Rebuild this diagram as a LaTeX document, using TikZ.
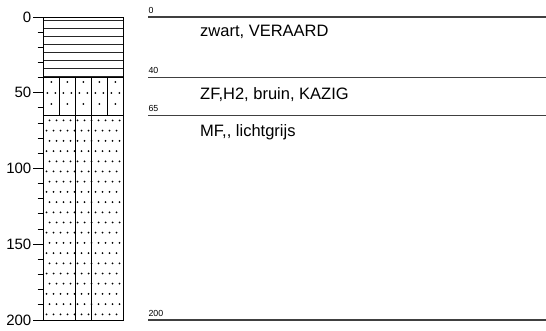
\documentclass[tikz,border=0pt]{standalone}
\usepackage{fontspec}
\setmainfont{Liberation Sans}
\begin{document}
\begin{tikzpicture}[x=1pt,y=-1pt,
  axislabel/.style={anchor=east,inner sep=0pt,font=\fontsize{15}{17}\selectfont},
  depthlabel/.style={anchor=south west,inner sep=0pt,font=\fontsize{8.8}{10}\selectfont},
  desc/.style={anchor=west,inner sep=0pt,font=\fontsize{16.5}{18}\selectfont},
  sepline/.style={line width=1.8pt,draw=black!75},
  colline/.style={line width=0.9pt,draw=black},
  hatch/.style={line width=0.8pt,draw=black!85},
  dotfill/.style={fill=black}]
\useasboundingbox (0,0) rectangle (546,331);
% depth scale: y = 17 + 1.515*d
\def\xl{43.3}\def\xr{123.3}
% top layer hatching
\foreach \yy in {20.7,28.7,...,76.7}
  \draw[hatch] (\xl,\yy) -- (\xr,\yy);
% middle layer cells
\foreach \xx in {59.3,75.3,91.3,107.3}
  \draw[colline] (\xx,77.6) -- (\xx,115.5);
% lower layer vertical lines
\foreach \xx in {75.3,91.3}
  \draw[colline] (\xx,115.5) -- (\xx,320);
% middle layer dots
\foreach \yy in {82,104} \foreach \k in {0,...,4}
  \fill[dotfill] (51.3+16*\k,\yy) circle (1);
\foreach \k in {0,...,9}
  \fill[dotfill] (47.3+8*\k,93) circle (1);
% lower layer dots
\foreach \r in {0,...,19}{
  \pgfmathsetmacro{\yy}{120.5+10.2*\r}
  \pgfmathsetmacro{\off}{mod(\r,2)==0 ? 49.5 : 46.5}
  \foreach \k in {0,...,10}{
    \pgfmathsetmacro{\xx}{\off+7*\k}
    \pgfmathparse{\xx<122.5 ? 1 : 0}
    \ifnum\pgfmathresult=1 \fill[dotfill] (\xx,\yy) circle (1);\fi
  }
}
% layer boundaries in column
\draw[line width=1.4pt] (\xl,77.6) -- (\xr,77.6);
\draw[line width=1.4pt] (\xl,115.5) -- (\xr,115.5);
% column frame
\draw[colline] (\xl,17) rectangle (\xr,320);
% ticks
\foreach \d in {10,20,30,40,60,70,80,90,110,120,130,140,160,170,180,190}
  \draw[colline] (37.5,17+1.515*\d) -- (\xl,17+1.515*\d);
\foreach \d/\nm in {0/a,50/b,100/c,150/d,200/e}{
  \draw[colline] (33,17+1.515*\d) -- (\xl,17+1.515*\d);
  \node[axislabel] (ax\nm) at (31.5,17+1.515*\d) {\d};
}
% right side layer lines
\foreach \yy/\lab/\nm in {17/0/a,77.6/40/b,115.5/65/c,320/200/d}{
  \draw[sepline] (148,\yy) -- (546,\yy);
  \node[depthlabel] (dl\nm) at (148.3,\yy-3.5) {\lab};
}
\node[desc] (da) at (200,32) {zwart, VERAARD};
\node[desc] (db) at (200,94.5) {ZF,H2, bruin, KAZIG};
\node[desc] (dc) at (200,132.5) {MF,{},{} lichtgrijs};
\end{tikzpicture}
\end{document}
